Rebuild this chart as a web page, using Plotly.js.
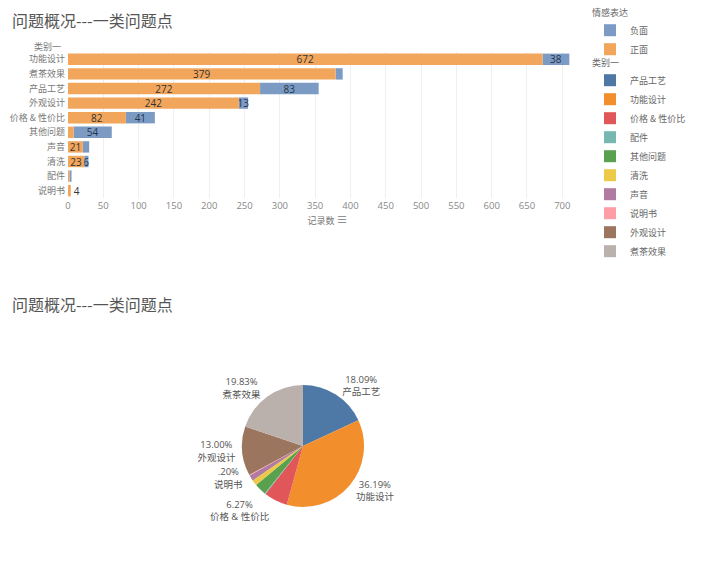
<!DOCTYPE html>
<html><head><meta charset="utf-8">
<script src="https://cdn.plot.ly/plotly-3.0.1.min.js"></script>
<style>html,body{margin:0;padding:0;background:#fff}#chart{width:720px;height:571px}</style>
</head><body><div id="chart"></div>
<script>
// ---- data ----
const categories = ['功能设计','煮茶效果','产品工艺','外观设计','价格 & 性价比','其他问题','声音','清洗','配件','说明书'];
const positive = [672, 379, 272, 242, 82, 8, 21, 23, 2, 4];
const negative = [38, 10, 83, 13, 41, 54, 9, 6, 3, null];
const positiveLabels = ['672','379','272','242','82','','21','23','','4'];
const negativeLabels = ['38','','83','13','41','54','','6','',''];
const xTicks = [0,50,100,150,200,250,300,350,400,450,500,550,600,650,700];
const pieCategories = ['产品工艺','功能设计','价格 & 性价比','配件','其他问题','清洗','声音','说明书','外观设计','煮茶效果'];
const pieLabeled = ['产品工艺','功能设计','价格 & 性价比','说明书','外观设计','煮茶效果'];
const pieColors = ['#4E79A7','#F28E2B','#E15759','#76B7B2','#59A14F','#EDC948','#B07AA1','#FF9DA7','#9C755F','#BAB0AC'];
const colorNeg = '#7B9BC4';
const colorPos = '#F2A65C';

// ---- derived ----
const pieValues = pieCategories.map(c => {
  const i = categories.indexOf(c);
  return (positive[i] || 0) + (negative[i] || 0);
});
const total = pieValues.reduce((a,b)=>a+b,0);
const pieText = pieCategories.map((c,i) => {
  if (pieLabeled.indexOf(c) < 0) return '';
  let p = (pieValues[i]/total*100).toFixed(2);
  if (p.startsWith('0')) p = p.slice(1);
  return p + '%<br>' + c;
});

const W = 720, H = 571;
const px = x => x / W;
const py = y => 1 - y / H;
const FONT = 'Open Sans, Noto Sans CJK SC, sans-serif';
const CJK = 'Noto Sans CJK SC, sans-serif';

const traces = [
  {
    type: 'bar', orientation: 'h', name: '负面',
    y: categories, x: negative, base: positive,
    marker: {color: colorNeg},
    text: negativeLabels, texttemplate: '%{text}',
    textposition: 'inside', insidetextanchor: 'middle', constraintext: 'none', textangle: 0, cliponaxis: false,
    textfont: {size: 10, color: '#26344a', family: FONT},
    hoverinfo: 'x+y', legend: 'legend'
  },
  {
    type: 'bar', orientation: 'h', name: '正面',
    y: categories, x: positive,
    marker: {color: colorPos},
    text: positiveLabels, texttemplate: '%{text}',
    textposition: positive.map((v,i) => negative[i] == null ? 'outside' : 'inside'),
    insidetextanchor: 'middle', constraintext: 'none', textangle: 0, cliponaxis: false,
    textfont: {size: 10, color: '#333', family: FONT},
    hoverinfo: 'x+y', legend: 'legend'
  },
  {
    type: 'pie', labels: pieCategories, values: pieValues,
    marker: {colors: pieColors, line: {width: 0}},
    sort: false, direction: 'clockwise', rotation: 0,
    text: pieText, textinfo: 'text', texttemplate: '%{text}',
    textposition: 'outside',
    outsidetextfont: {size: 9.5, color: '#555', family: FONT},
    domain: {x: [px(242), px(364)], y: [py(507), py(385)]},
    legend: 'legend2', showlegend: true
  }
];

const layout = {
  width: W, height: H,
  margin: {l: 0, r: 0, t: 0, b: 0},
  paper_bgcolor: '#fff', plot_bgcolor: '#fff',
  barmode: 'overlay', bargap: 0.22,
  font: {family: FONT, color: '#666', size: 9},
  xaxis: {
    domain: [px(68), px(587)], range: [0, 735],
    tickvals: xTicks, showgrid: true, gridcolor: '#efefef', gridwidth: 1,
    zeroline: false, showline: false, ticks: '',
    tickfont: {size: 9.5, color: '#888', family: FONT},
    title: {text: '记录数 <span style="font-size:11px">≡</span>', font: {size: 9, color: '#777', family: CJK}, standoff: 4},
    fixedrange: true
  },
  yaxis: {
    domain: [py(198), py(52)],
    type: 'category', autorange: 'reversed',
    showgrid: false, zeroline: false, showline: false, ticks: '',
    tickfont: {size: 9, color: '#777', family: CJK},
    ticklabelstandoff: 2,
    fixedrange: true
  },
  legend: {
    x: px(590), y: py(4), xanchor: 'left', yanchor: 'top',
    traceorder: 'normal',
    title: {text: '情感表达', font: {size: 9, color: '#666', family: CJK}},
    font: {size: 9, color: '#666', family: CJK},
    itemwidth: 30, tracegroupgap: 0, bgcolor: 'rgba(0,0,0,0)'
  },
  legend2: {
    x: px(590), y: py(54), xanchor: 'left', yanchor: 'top',
    title: {text: '类别一', font: {size: 9, color: '#666', family: CJK}},
    font: {size: 9, color: '#666', family: CJK},
    itemwidth: 30, bgcolor: 'rgba(0,0,0,0)'
  },
  annotations: [
    {text: '问题概况---一类问题点', xref: 'paper', yref: 'paper', x: px(10), y: py(20),
     xanchor: 'left', yanchor: 'middle', showarrow: false,
     font: {size: 16, color: '#555', family: CJK}},
    {text: '问题概况---一类问题点', xref: 'paper', yref: 'paper', x: px(10), y: py(304),
     xanchor: 'left', yanchor: 'middle', showarrow: false,
     font: {size: 16, color: '#555', family: CJK}},
    {text: '类别一', xref: 'paper', yref: 'paper', x: px(63), y: py(46),
     xanchor: 'right', yanchor: 'middle', showarrow: false,
     font: {size: 9, color: '#777', family: CJK}}
  ]
};

Plotly.newPlot('chart', traces, layout, {displayModeBar: false, staticPlot: true});
</script>
</body></html>
